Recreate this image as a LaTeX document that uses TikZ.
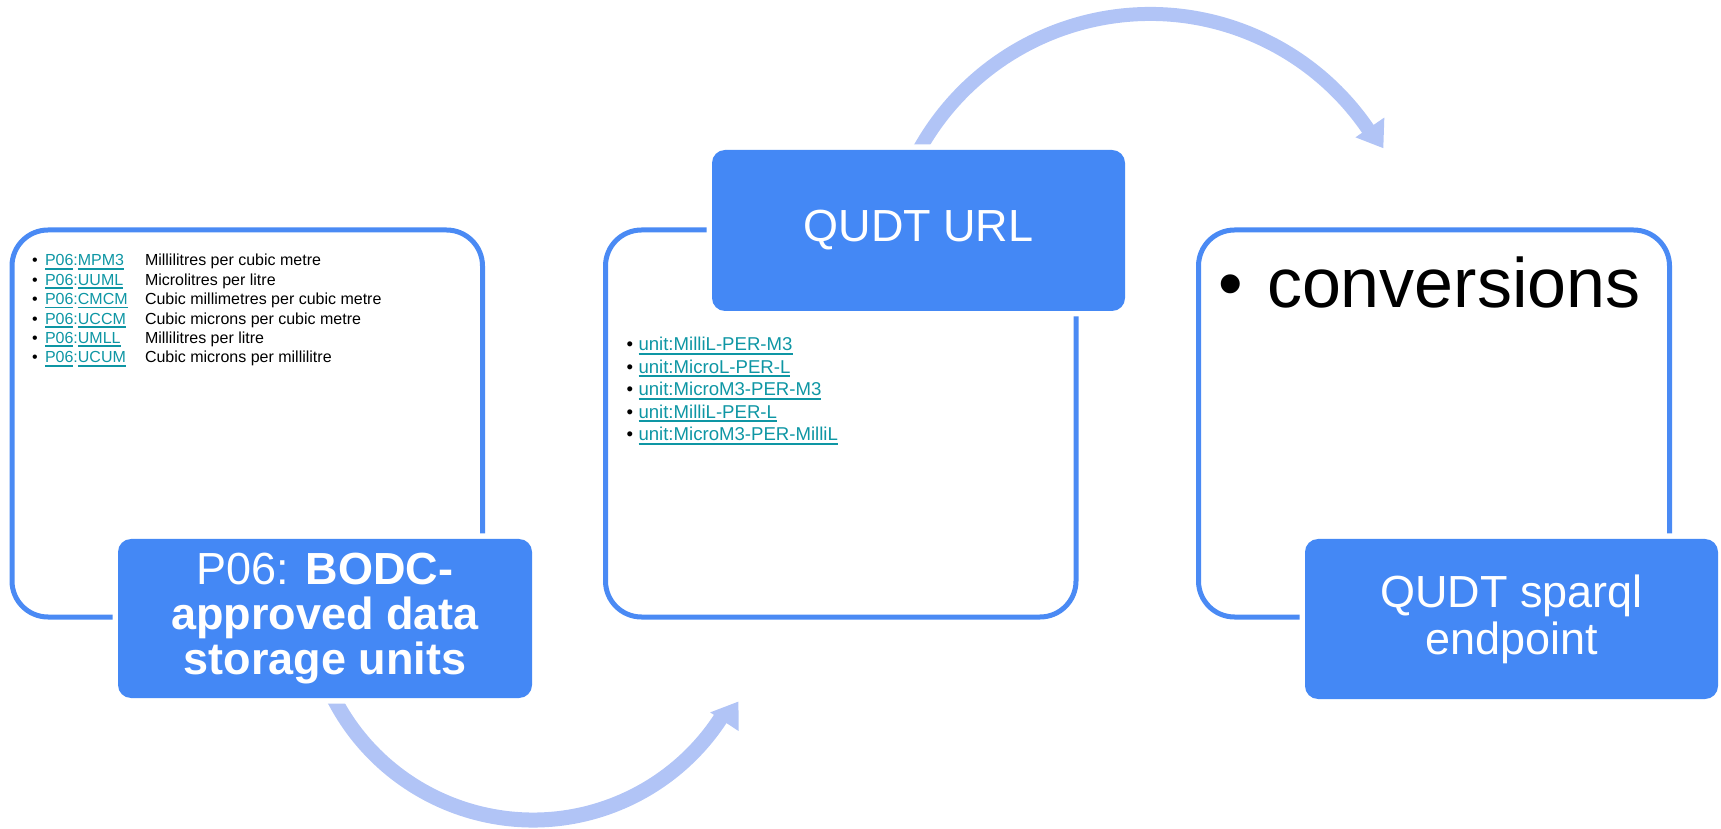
\documentclass[tikz,border=0pt]{standalone}
\usepackage{fontspec}
\setmainfont{Liberation Sans}
\definecolor{boxblue}{RGB}{68,136,245}
\definecolor{lineblue}{RGB}{74,138,244}
\definecolor{arrowblue}{RGB}{177,196,246}
\definecolor{linkteal}{RGB}{14,150,164}
\newsavebox\lkbox
\newcommand\lk[1]{\sbox\lkbox{#1}\rlap{\rule[-0.22em]{\wd\lkbox}{0.11em}}\usebox\lkbox}
\begin{document}
\begin{tikzpicture}[x=1pt,y=1pt,
  outlinebox/.style={draw=lineblue, line width=5pt, rounded corners=36pt,
    minimum width=470.5pt, minimum height=387pt, inner sep=0pt},
  bluebox/.style={fill=boxblue, rounded corners=13pt, inner sep=0pt, text=white,
    align=center, preaction={draw=white, line width=11pt}},
  txt/.style={inner sep=0pt, outer sep=0pt, anchor=base west},
  smalltxt/.style={txt, font=\fontsize{16}{19}\selectfont},
  midtxt/.style={txt, font=\fontsize{18.6}{22}\selectfont},
  arrowband/.style={draw=arrowblue, line width=#1},
  arrowhead/.style={fill=arrowblue}]
\useasboundingbox (0,0) rectangle (1721,828);

% outline boxes
\node[outlinebox] (ol) at (247.25,404.5) {};
\node[outlinebox] (om) at (840.75,404.5) {};
\node[outlinebox, minimum width=471pt] (or) at (1434,404.5) {};

% curved arrows
\coordinate (c1) at (533,232);
\draw[arrowband=15pt] ([shift={(205:224)}]c1) arc[start angle=205, end angle=327, radius=224];
\fill[arrowhead] ([shift={(326.7:212)}]c1) -- ([shift={(332.8:231)}]c1) -- ([shift={(326.7:246)}]c1) -- cycle;

\coordinate (c2) at (1150,550);
\draw[arrowband=14pt] ([shift={(153:264)}]c2) arc[start angle=153, end angle=34.2, radius=264];
\fill[arrowhead] ([shift={(34.4:249)}]c2) -- ([shift={(29.1:267)}]c2) -- ([shift={(34.4:284)}]c2) -- cycle;

% blue boxes
\node[bluebox, minimum width=414pt, minimum height=159pt, font=\fontsize{45}{45}\selectfont]
  (bl) at (325,209.5) {P06: \textbf{BODC-}\\\textbf{approved data}\\\textbf{storage units}};
\node[bluebox, minimum width=413pt, minimum height=161pt, font=\fontsize{45}{54}\selectfont]
  (bm) at (918.5,597.5) {QUDT URL};
\node[bluebox, minimum width=413pt, minimum height=160pt, font=\fontsize{45}{47}\selectfont]
  (br) at (1511.5,209) {QUDT sparql\\endpoint};

% left list
\foreach \code/\desc [count=\i] in {MPM3/Millilitres per cubic metre,
    UUML/Microlitres per litre, CMCM/Cubic millimetres per cubic metre,
    UCCM/Cubic microns per cubic metre, UMLL/Millilitres per litre,
    UCUM/Cubic microns per millilitre} {
  \pgfmathsetmacro\yy{562-19.4*(\i-1)}
  \node[smalltxt] (lb\i) at (32.2,\yy) {•};
  \node[smalltxt, text=linkteal] (lc\i) at (45,\yy) {\lk{P06}:\lk{\code}};
  \node[smalltxt] (ld\i) at (145,\yy) {\desc};
}

% middle list
\foreach \u [count=\i] in {MilliL-PER-M3, MicroL-PER-L, MicroM3-PER-M3,
    MilliL-PER-L, MicroM3-PER-MilliL} {
  \pgfmathsetmacro\yy{477.3-22.5*(\i-1)}
  \node[midtxt] (mb\i) at (626.5,\yy) {•};
  \node[midtxt, text=linkteal] (mu\i) at (638.5,\yy) {\lk{unit:\u}};
}

% right box bullet
\node[txt, font=\fontsize{70}{84}\selectfont] (rb) at (1218,520) {•};
\node[txt, font=\fontsize{70}{84}\selectfont] (rc) at (1267,520) {conversions};
\end{tikzpicture}
\end{document}
